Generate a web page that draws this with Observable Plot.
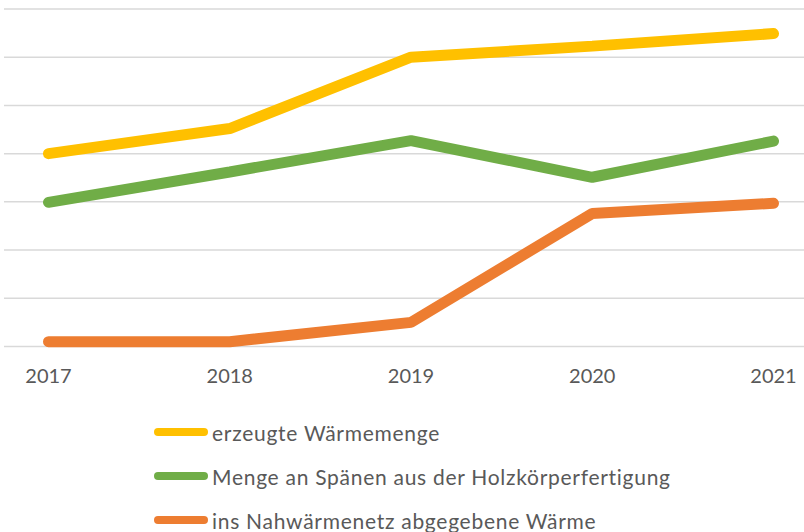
<!DOCTYPE html>
<html>
<head>
<meta charset="utf-8">
<script src="https://cdn.jsdelivr.net/npm/d3@7"></script>
<script src="https://cdn.jsdelivr.net/npm/@observablehq/plot@0.6"></script>
<style>
  html, body { margin: 0; padding: 0; background: #fff; }
  #wrap { width: 804px; font-family: Lato, "Open Sans", sans-serif; }
  #legend { height: 132px; box-sizing: border-box; padding-top: 10px; }
  .item { height: 44px; display: flex; align-items: center; padding-left: 154px; color: #595959; font-size: 21px; letter-spacing: 0.72px; }
  .sw { width: 54px; height: 8px; border-radius: 4px; margin-right: 4px; }
</style>
</head>
<body>
<div id="wrap">
  <div id="chart"></div>
  <div id="legend"></div>
</div>
<script>
const years = [2017, 2018, 2019, 2020, 2021];
const seriesNames = [
  "erzeugte Wärmemenge",
  "Menge an Spänen aus der Holzkörperfertigung",
  "ins Nahwärmenetz abgegebene Wärme"
];
const colors = ["#FFC000", "#70AD47", "#ED7D31"];
const erzeugt = [4.00, 4.52, 6.00, 6.23, 6.49];
const spaene = [2.99, 3.62, 4.27, 3.51, 4.26];
const nahwaerme = [0.10, 0.10, 0.50, 2.76, 2.97];
const gridValues = [0, 1, 2, 3, 4, 5, 6, 7];

const allSeries = [erzeugt, spaene, nahwaerme];
const data = [];
allSeries.forEach((vals, si) => {
  vals.forEach((v, i) => data.push({ year: years[i], value: v, series: seriesNames[si] }));
});

const chart = Plot.plot({
  width: 804,
  height: 400,
  marginLeft: 48,
  marginRight: 31,
  marginTop: 8,
  marginBottom: 54,
  x: { domain: [2017, 2021], axis: null },
  y: { domain: [0, 7], range: [346, 8.5], axis: null },
  color: { domain: seriesNames, range: colors },
  style: { fontFamily: "Lato, 'Open Sans', sans-serif", background: "#fff" },
  marks: [
    Plot.ruleY(gridValues, { stroke: "#d9d9d9", strokeWidth: 1.5, insetLeft: -44, insetRight: -31 }),
    Plot.line(data, {
      x: "year", y: "value", z: "series", stroke: "series",
      strokeWidth: 11, strokeLinecap: "round", strokeLinejoin: "miter", curve: "linear"
    }),
    Plot.axisX({
      ticks: years, tickFormat: d => String(d), tickSize: 0, tickPadding: 22,
      fontSize: 20, fill: "#595959", anchor: "bottom", label: null
    })
  ]
});
document.getElementById("chart").appendChild(chart);

const legend = document.getElementById("legend");
seriesNames.forEach((name, i) => {
  const row = document.createElement("div");
  row.className = "item";
  const sw = document.createElement("div");
  sw.className = "sw";
  sw.style.background = colors[i];
  const label = document.createElement("span");
  label.textContent = name;
  row.appendChild(sw);
  row.appendChild(label);
  legend.appendChild(row);
});
</script>
</body>
</html>
